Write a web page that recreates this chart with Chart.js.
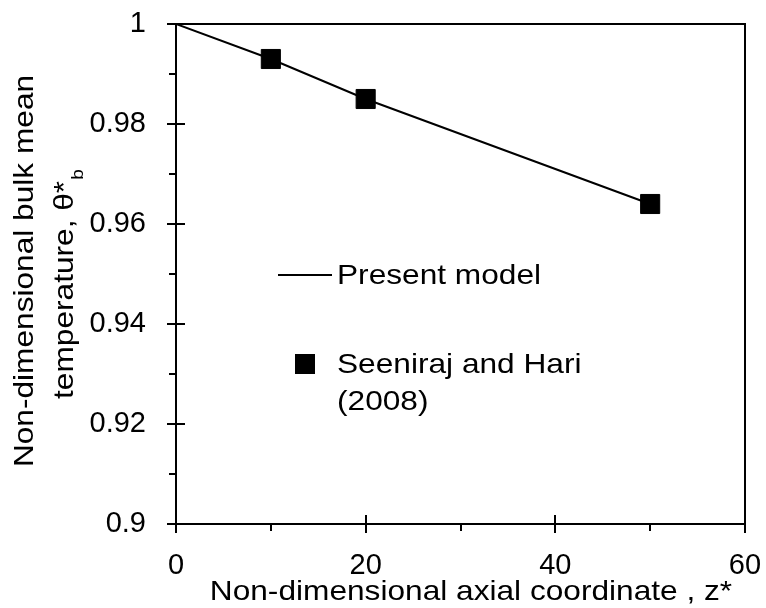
<!DOCTYPE html>
<html>
<head>
<meta charset="utf-8">
<script src="https://cdn.jsdelivr.net/npm/chart.js@4.4.1/dist/chart.umd.min.js"></script>
<style>
  html, body { margin: 0; padding: 0; background: #fff; }
  #wrap { width: 766px; height: 608px; }
</style>
</head>
<body>
<div id="wrap"><canvas id="chart" width="766" height="608"></canvas></div>
<script>
// data
const modelZ = [0, 10, 20, 50];
const modelTheta = [1, 0.993, 0.985, 0.964];
const refZ = [10, 20, 50];
const refTheta = [0.993, 0.985, 0.964];
const xLabelTicks = [0, 20, 40, 60];
const yLabelTicks = [0.9, 0.92, 0.94, 0.96, 0.98, 1];

const FONT = '"Liberation Sans", Arial, sans-serif';
const STRETCH = 1.13;

function isLabelled(list, v) {
    return list.some(t => Math.abs(t - v) < 1e-6);
}

// text in the original is a bit wider than Arial, so stretch it horizontally
function drawText(ctx, text, x, y, size, align, baseline) {
    ctx.save();
    ctx.font = size + 'px ' + FONT;
    ctx.fillStyle = '#000';
    ctx.translate(x, y);
    ctx.scale(STRETCH, 1);
    ctx.textAlign = align;
    ctx.textBaseline = baseline || 'middle';
    ctx.fillText(text, 0, 0);
    ctx.restore();
}

const framePlugin = {
    id: 'frame',
    afterDatasetsDraw(chart) {
        const ctx = chart.ctx;
        const a = chart.chartArea;
        const xs = chart.scales.x;
        const ys = chart.scales.y;
        ctx.save();
        ctx.strokeStyle = '#000';
        ctx.lineWidth = 2;
        ctx.strokeRect(a.left, a.top, a.right - a.left, a.bottom - a.top);
        ctx.beginPath();
        xs.ticks.forEach(t => {
            const px = Math.round(xs.getPixelForValue(t.value));
            if (isLabelled(xLabelTicks, t.value)) {
                ctx.moveTo(px, a.bottom - 9);
                ctx.lineTo(px, a.bottom + 9);
            } else {
                ctx.moveTo(px, a.bottom);
                ctx.lineTo(px, a.bottom + 7);
            }
        });
        ys.ticks.forEach(t => {
            const py = Math.round(ys.getPixelForValue(t.value));
            if (isLabelled(yLabelTicks, t.value)) {
                ctx.moveTo(a.left - 9, py);
                ctx.lineTo(a.left + 9, py);
            } else {
                ctx.moveTo(a.left - 7, py);
                ctx.lineTo(a.left, py);
            }
        });
        ctx.stroke();
        ctx.restore();

        // x title
        drawText(ctx, 'Non-dimensional axial coordinate , z*', 471, 600, 28, 'center', 'alphabetic');

        // y title, two rotated lines with a subscript b
        ctx.save();
        ctx.fillStyle = '#000';
        ctx.translate(33, 271);
        ctx.rotate(-Math.PI / 2);
        ctx.scale(STRETCH, 1);
        ctx.font = '28px ' + FONT;
        ctx.textAlign = 'center';
        ctx.textBaseline = 'alphabetic';
        ctx.fillText('Non-dimensional bulk mean', 0, 0);
        const main = 'temperature, \u03b8*';
        const w1 = ctx.measureText(main).width;
        ctx.font = '17px ' + FONT;
        const w2 = ctx.measureText('b').width;
        const start = -(w1 + w2) / 2 - 12;
        ctx.textAlign = 'left';
        ctx.font = '28px ' + FONT;
        ctx.fillText(main, start, 40);
        ctx.font = '17px ' + FONT;
        ctx.fillText('b', start + w1 + 1, 50);
        ctx.restore();

        // legend inside the plot
        const line = chart.data.datasets[0];
        const pts = chart.data.datasets[1];
        ctx.save();
        ctx.strokeStyle = line.borderColor;
        ctx.lineWidth = line.borderWidth;
        ctx.beginPath();
        ctx.moveTo(278, 275);
        ctx.lineTo(332, 275);
        ctx.stroke();
        ctx.fillStyle = pts.backgroundColor;
        ctx.fillRect(295, 354, 20, 20);
        ctx.restore();
        drawText(ctx, line.label, 337, 276, 28, 'left');
        drawText(ctx, 'Seeniraj and Hari', 337, 365, 28, 'left');
        drawText(ctx, '(2008)', 337, 402, 28, 'left');
    }
};

const ctx = document.getElementById('chart').getContext('2d');
const chart = new Chart(ctx, {
    type: 'scatter',
    data: {
        datasets: [{
            label: 'Present model',
            data: modelZ.map((z, i) => ({ x: z, y: modelTheta[i] })),
            showLine: true,
            borderColor: '#000',
            borderWidth: 2,
            pointRadius: 0,
            tension: 0
        }, {
            label: 'Seeniraj and Hari (2008)',
            data: refZ.map((z, i) => ({ x: z, y: refTheta[i] })),
            showLine: false,
            pointStyle: 'rect',
            pointRadius: 13.5,
            pointBorderWidth: 1,
            borderColor: '#000',
            backgroundColor: '#000'
        }]
    },
    options: {
        responsive: false,
        animation: false,
        devicePixelRatio: 1,
        layout: {
            padding: { left: 0, right: 21, top: 24, bottom: 0 }
        },
        scales: {
            x: {
                type: 'linear',
                min: 0,
                max: 60,
                afterFit: s => { s.height = 84; },
                border: { display: false },
                // invisible tick marks only push the labels away from the axis
                grid: { drawOnChartArea: false, drawTicks: true, tickLength: 22, color: 'rgba(0,0,0,0)' },
                ticks: {
                    stepSize: 10,
                    autoSkip: false,
                    maxRotation: 0,
                    padding: 3,
                    color: '#000',
                    font: { family: FONT, size: 29 },
                    callback: v => isLabelled(xLabelTicks, v) ? String(v) : ''
                }
            },
            y: {
                type: 'linear',
                min: 0.9,
                max: 1,
                afterFit: s => { s.width = 176; },
                border: { display: false },
                grid: { drawOnChartArea: false, drawTicks: true, tickLength: 27, color: 'rgba(0,0,0,0)' },
                ticks: {
                    stepSize: 0.01,
                    autoSkip: false,
                    padding: 3,
                    color: '#000',
                    font: { family: FONT, size: 29 },
                    callback: v => isLabelled(yLabelTicks, v) ? String(parseFloat(v.toFixed(2))) : ''
                }
            }
        },
        plugins: {
            legend: { display: false },
            tooltip: { enabled: false }
        }
    },
    plugins: [framePlugin]
});
</script>
</body>
</html>
